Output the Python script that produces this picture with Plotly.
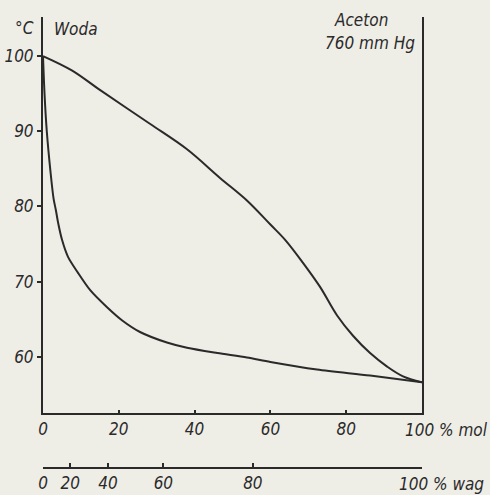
import plotly.graph_objects as go

# ---- data ----
# liquid (boiling) curve: mol % acetone vs temperature
liquid_x = [0, 0.4, 1.0, 2.0, 2.8, 3.4, 4.0, 5.0, 6.6, 9.2, 12.4, 16.9, 21.0, 25.6, 32.7, 38.0, 46.0, 53.8, 60.0, 72.3, 86.3, 100]
liquid_T = [100, 95.0, 90.0, 84.5, 81.0, 79.5, 77.8, 75.6, 73.3, 71.2, 68.9, 66.6, 64.8, 63.3, 61.9, 61.2, 60.5, 59.9, 59.3, 58.3, 57.5, 56.6]
# vapour (dew) curve
vapour_x = [0, 7.6, 15.0, 28.2, 38.0, 46.7, 53.8, 60.0, 64.0, 68.6, 73.1, 77.6, 81.8, 86.3, 90.8, 95.0, 100]
vapour_T = [100, 98.1, 95.5, 91.0, 87.6, 83.8, 80.8, 77.6, 75.5, 72.5, 69.3, 65.5, 62.8, 60.5, 58.7, 57.4, 56.6]

mol_ticks = [0, 20, 40, 60, 80, 100]
mol_labels = ["0", "20", "40", "60", "80", ""]
wt_ticks = [0, 20, 40, 60, 80, 100]
wt_labels = ["0", "20", "40", "60", "80", ""]
T_ticks = [60, 70, 80, 90, 100]
T_labels = ["60", "70", "80", "90", "100"]

M_WATER = 18.02
M_ACETONE = 58.08


def wt_to_mol(w):
    a = w / M_ACETONE
    b = (100 - w) / M_WATER
    return 100 * a / (a + b)


wt_pos = [wt_to_mol(w) for w in wt_ticks]

BG = "#eeede6"
INK = "#2a2a2a"
FONT = dict(family="Liberation Sans Narrow, DejaVu Sans Condensed, sans-serif",
            size=17, color=INK, style="italic")

fig = go.Figure()
fig.add_trace(go.Scatter(x=liquid_x, y=liquid_T, mode="lines",
                         line=dict(color=INK, width=2, shape="spline", smoothing=0.8),
                         hoverinfo="skip"))
fig.add_trace(go.Scatter(x=vapour_x, y=vapour_T, mode="lines",
                         line=dict(color=INK, width=2, shape="spline", smoothing=1.0),
                         hoverinfo="skip"))
# empty trace so that the weight-% axis is drawn
fig.add_trace(go.Scatter(x=wt_pos, y=[None] * len(wt_pos), xaxis="x2", yaxis="y",
                         mode="lines", hoverinfo="skip"))

fig.update_layout(
    width=490, height=495,
    margin=dict(l=43, r=68, t=17, b=27, autoexpand=False),
    paper_bgcolor=BG, plot_bgcolor=BG,
    showlegend=False,
    font=FONT,
    xaxis=dict(range=[0, 100], tickvals=mol_ticks, ticktext=mol_labels,
               ticks="inside", ticklen=3, tickwidth=1.5, tickcolor=INK,
               showline=True, linecolor=INK, linewidth=2, showgrid=False,
               zeroline=False, anchor="y", tickfont=FONT, automargin=False),
    xaxis2=dict(range=[0, 100], tickvals=wt_pos, ticktext=wt_labels,
                overlaying="x", anchor="free", position=0, side="bottom",
                ticks="inside", ticklen=4, tickwidth=1.5, tickcolor=INK,
                showline=True, linecolor=INK, linewidth=2, showgrid=False,
                zeroline=False, tickfont=FONT, automargin=False),
    yaxis=dict(range=[52.53, 105.2], domain=[0.122, 1], tickvals=T_ticks, ticktext=T_labels,
               ticks="outside", ticklen=4, tickwidth=1.5, tickcolor=INK,
               showline=True, mirror=True, linecolor=INK, linewidth=2,
               showgrid=False, zeroline=False, tickfont=FONT, automargin=False),
)

ann = dict(showarrow=False, xref="paper", yref="paper", font=FONT)
fig.add_annotation(text="°C", x=-0.0475, y=0.9756, xanchor="center", yanchor="middle", **ann)
fig.add_annotation(text="Woda", x=0.024, y=0.973, xanchor="left", yanchor="middle", **ann)
fig.add_annotation(text="Aceton", x=0.839, y=0.993, xanchor="center", yanchor="middle", **ann)
fig.add_annotation(text="760 mm Hg", x=0.863, y=0.942, xanchor="center", yanchor="middle", **ann)
fig.add_annotation(text="100 % mol", x=(403 - 43) / 379, y=(468 - 430) / 451,
                   xanchor="left", yanchor="middle", **ann)
fig.add_annotation(text="100 % wag", x=(397 - 43) / 379, y=(468 - 484) / 451,
                   xanchor="left", yanchor="middle", **ann)

fig.write_html(
    "out.html",
    config={"displayModeBar": False},
    post_script="document.body.style.margin='0';document.body.style.background='%s';" % BG,
)
